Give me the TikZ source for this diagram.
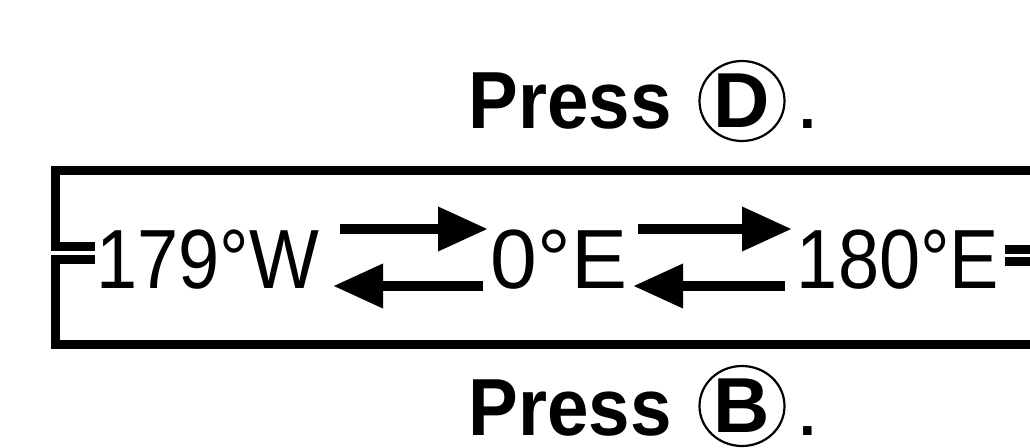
\documentclass[tikz,border=0pt]{standalone}
\usepackage{fontspec}
\setmainfont{Liberation Sans}
\usetikzlibrary{arrows.meta,shapes.geometric}
\begin{document}
\begin{tikzpicture}[x=1pt,y=-1pt,
  frame/.style={line width=9pt,line join=miter},
  arr/.style={line width=10pt,-{Triangle[length=50pt,width=42pt]}},
  lbl/.style={inner sep=0pt,anchor=base,font=\fontsize{84}{90}\selectfont},
  press/.style={inner sep=0pt,anchor=base,font=\fontsize{81}{90}\selectfont\bfseries},
  stop/.style={inner sep=0pt,anchor=base,font=\fontsize{60}{70}\selectfont\bfseries},
  keycap/.style={draw,ellipse,line width=2.2pt,minimum width=85pt,minimum height=80pt,inner sep=0pt,font=\fontsize{78}{80}\selectfont\bfseries}]
\useasboundingbox (0,0) rectangle (1030,447);
\clip (0,0) rectangle (1030,447);
\fill[white] (0,0) rectangle (1030,447);
% frame with wrap-around stubs
\draw[frame] (95,246) -- (55,246) -- (55,170) -- (1036,170) -- (1036,249) -- (1005,249);
\draw[frame] (95,259) -- (55,259) -- (55,344) -- (1036,344) -- (1036,261) -- (1005,261);
% labels
\node[lbl] (w) at (208,288) {\scalebox{0.88}[1]{179°W}};
\node[lbl] (z) at (559,288) {0°E};
\node[lbl] (e) at (898,288) {\scalebox{0.88}[1]{180°E}};
% arrows
\coordinate (a1s) at (340,229); \coordinate (a1e) at (488,229);
\coordinate (a2s) at (483,286); \coordinate (a2e) at (333,286);
\coordinate (a3s) at (638,229); \coordinate (a3e) at (792,229);
\coordinate (a4s) at (785,286); \coordinate (a4e) at (633,286);
\draw[arr] (a1s) -- (a1e);
\draw[arr] (a2s) -- (a2e);
\draw[arr] (a3s) -- (a3e);
\draw[arr] (a4s) -- (a4e);
% press instructions
\node[press] (pd) at (570,128) {\scalebox{0.92}[1]{Press}};
\node[keycap] (kd) at (742,101) {D};
\node[stop] (dd) at (808,128) {.};
\node[press] (pb) at (570,435) {\scalebox{0.92}[1]{Press}};
\node[keycap] (kb) at (742,406) {B};
\node[stop] (db) at (808,435) {.};
\end{tikzpicture}
\end{document}
